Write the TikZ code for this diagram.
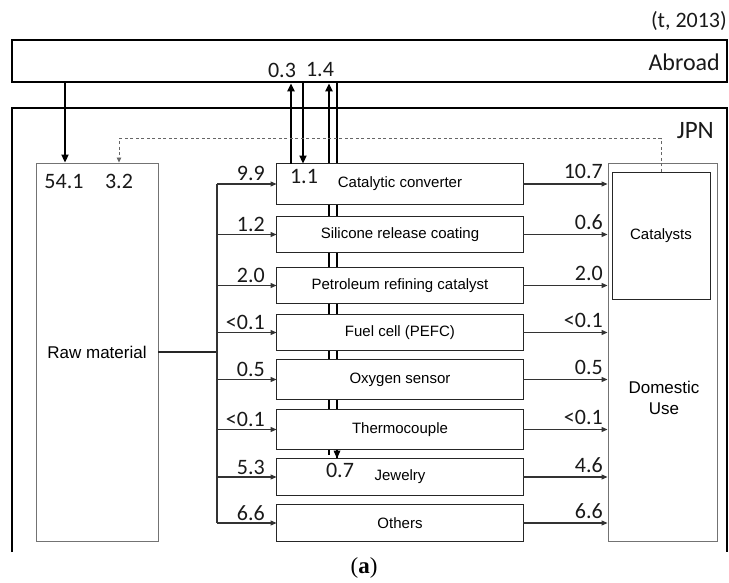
\documentclass[tikz,border=0pt]{standalone}
\usepackage{fontspec}
\setmainfont{Liberation Sans}
\newfontfamily\numfont{Carlito}
\newfontfamily\seriffont{Liberation Serif}
\usetikzlibrary{arrows.meta}
\tikzset{
  frame/.style={draw=black, line width=2.6pt},
  stepbox/.style={draw=black!85, line width=0.9pt, fill=white, minimum width=246pt, inner sep=0pt, font=\fontsize{15}{17}\selectfont},
  greybox/.style={draw=black!55, line width=0.9pt, fill=white, inner sep=0pt},
  flow/.style={draw=black!80, line width=1.1pt, -{Triangle[length=6pt,width=5pt]}},
  bigflow/.style={draw=black, line width=2.3pt},
  bighead/.style={-{Triangle[length=8pt,width=7pt]}},
  dashflow/.style={draw=black!60, line width=0.8pt, dash pattern=on 3pt off 2.5pt, -{Triangle[length=5pt,width=4.5pt]}},
  num/.style={font=\numfont\fontsize{22}{24}\selectfont, inner sep=0pt, text=black!90},
  lbl/.style={num, anchor=base east},
}
\begin{document}
\begin{tikzpicture}[x=1pt,y=-1pt]
\useasboundingbox (0,0) rectangle (729,583);

% coordinates for vertical flows
\coordinate (xa) at (65,0);
\coordinate (xd) at (119,0);
\coordinate (xb) at (291,0);
\coordinate (xc) at (303,0);
\coordinate (xv) at (329,0);
\coordinate (xw) at (337,0);
\coordinate (xs) at (217,0);
\coordinate (xr) at (661,0);

% Abroad box
\node[frame, minimum width=715pt, minimum height=42pt, inner sep=0pt] (abroad) at (369.5,61) {};
\node[num, anchor=east, font=\numfont\fontsize{24}{26}\selectfont] (abl) at (720,62) {Abroad};
\node[num, anchor=east] (year) at (727,21) {(t, 2013)};

% JPN frame (open at the bottom)
\coordinate (jbl) at (12,552);
\coordinate (jtl) at (12,108);
\coordinate (jtr) at (727,108);
\coordinate (jbr) at (727,552);
\draw[frame] (jbl) -- (jtl) -- (jtr) -- (jbr);
\node[num, anchor=east, font=\numfont\fontsize{25}{27}\selectfont] (jpn) at (714,131) {JPN};

% raw material and domestic use
\node[greybox, minimum width=122pt, minimum height=378pt] (raw) at (97,352) {};
\node[font=\fontsize{17}{19}\selectfont, inner sep=0pt] (rawt) at (97,352) {Raw material};
\node[greybox, minimum width=109pt, minimum height=378pt] (dom) at (662.5,352) {};
\node[draw=black!85, line width=0.9pt, fill=white, minimum width=98pt, minimum height=127pt, inner sep=0pt, font=\fontsize{15}{17}\selectfont] (cat) at (661,235.5) {Catalysts};
\node[font=\fontsize{17}{21}\selectfont, align=center, inner sep=0pt] (domt) at (664,398) {Domestic\\Use};

% application boxes (positions)
\node[stepbox, minimum height=40pt] (b1) at (400,184) {};
\node[stepbox, minimum height=35pt] (b2) at (400,234.5) {};
\node[stepbox, minimum height=35pt] (b3) at (400,285.5) {};
\node[stepbox, minimum height=35pt] (b4) at (400,332.5) {};
\node[stepbox, minimum height=39pt] (b5) at (400,379.5) {};
\node[stepbox, minimum height=39pt] (b6) at (400,429.5) {};
\node[stepbox, minimum height=36pt] (b7) at (400,477) {};
\node[stepbox, minimum height=36pt] (b8) at (400,523) {};

% vertical double line, drawn behind the boxes
\draw[bigflow, bighead] ([yshift=4pt]b7.north -| xv) -- (abroad.south -| xv);
\draw[bigflow] (abroad.south -| xw) -- (b7.north -| xw);

% boxes on top of the lines
\foreach \n/\t in {b1/Catalytic converter, b2/Silicone release coating, b3/Petroleum refining catalyst, b4/Fuel cell (PEFC), b5/Oxygen sensor, b6/Thermocouple, b7/Jewelry, b8/Others}{
  \draw[draw=black!85, line width=0.9pt, fill=white] (\n.north west) rectangle (\n.south east);
  \node[font=\fontsize{15}{17}\selectfont, inner sep=0pt] at (\n.center) {\t};
}
% arrow tip of the 0.7 import at the jewelry box
\fill[black] (b7.north -| xw) -- ++(-3.5,-8) -- ++(7,0) -- cycle;

% exports / imports for catalytic converter
\draw[bigflow, bighead] (b1.north -| xb) -- (abroad.south -| xb);
\draw[bigflow, bighead] (abroad.south -| xc) -- (b1.north -| xc);

% import to raw material
\draw[bigflow, bighead] (abroad.south -| xa) -- (raw.north -| xa);
% recycled catalysts (dashed)
\draw[dashflow] (cat.north -| xr) -- ++(0,-33) -| (raw.north -| xd);

% raw material to applications
\coordinate (br) at (raw.east -| xs);
\draw[draw=black!85, line width=1.3pt] (raw.east) -- (br);
\draw[draw=black!80, line width=1.1pt] (b1.west -| xs) -- (b8.west -| xs);
\foreach \n in {b1,b2,b3,b4,b5,b6,b7,b8}{
  \draw[flow] (\n.west -| xs) -- (\n.west);
  \draw[flow] (\n.east) -- (\n.east -| dom.west);
}

% labels on left arrows
\node[lbl] at ([yshift=3pt]b1.west -| 265,0) {9.9};
\node[lbl] at ([yshift=3pt]b2.west -| 265,0) {1.2};
\node[lbl] at ([yshift=3pt]b3.west -| 265,0) {2.0};
\node[lbl] at ([yshift=3pt]b4.west -| 265,0) {<0.1};
\node[lbl] at ([yshift=3pt]b5.west -| 265,0) {0.5};
\node[lbl] at ([yshift=3pt]b6.west -| 265,0) {<0.1};
\node[lbl] at ([yshift=3pt]b7.west -| 265,0) {5.3};
\node[lbl] at ([yshift=3pt]b8.west -| 265,0) {6.6};
% labels on right arrows
\node[lbl] at ([yshift=5pt]b1.east -| 603,0) {10.7};
\node[lbl] at ([yshift=5pt]b2.east -| 603,0) {0.6};
\node[lbl] at ([yshift=5pt]b3.east -| 603,0) {2.0};
\node[lbl] at ([yshift=5pt]b4.east -| 603,0) {<0.1};
\node[lbl] at ([yshift=5pt]b5.east -| 603,0) {0.5};
\node[lbl] at ([yshift=5pt]b6.east -| 603,0) {<0.1};
\node[lbl] at ([yshift=5pt]b7.east -| 603,0) {4.6};
\node[lbl] at ([yshift=5pt]b8.east -| 603,0) {6.6};

% trade labels
\node[num] (l03) at (282,70) {0.3};
\node[num] (l14) at (320,70) {1.4};
\node[num] (l11) at (304,177) {1.1};
\node[num] (l07) at (340,470) {0.7};
\node[num] (l541) at (64,182) {54.1};
\node[num] (l32) at (119,181) {3.2};

% caption
\node[font=\seriffont\fontsize{23}{25}\selectfont, inner sep=0pt] (cap) at (364,568) {(\textbf{a})};
\end{tikzpicture}
\end{document}
